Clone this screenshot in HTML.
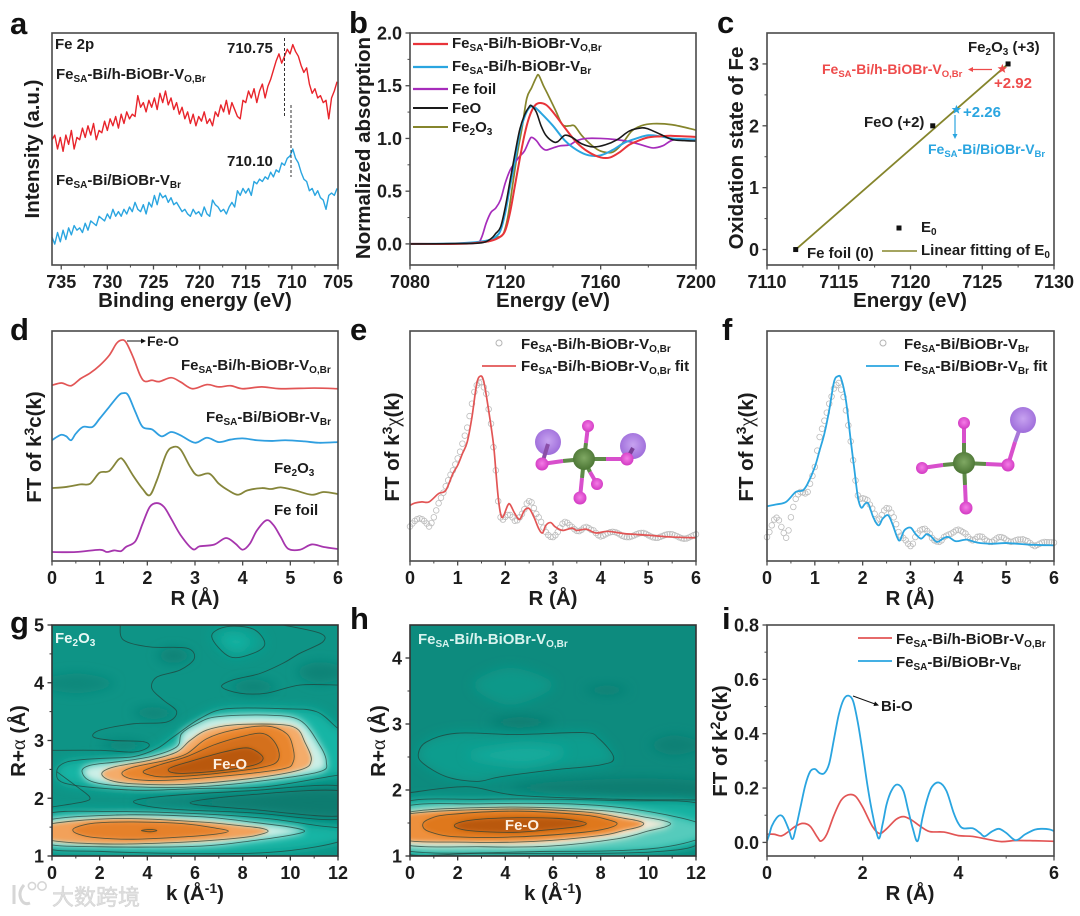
<!DOCTYPE html>
<html lang="en">
<head>
<meta charset="utf-8">
<title>Fe single atom characterization panels</title>
<style>
html,body{margin:0;padding:0;background:#fff;}
svg{display:block;filter:blur(.35px);}
text{font-family:"Liberation Sans","Noto Sans CJK SC",sans-serif;font-weight:700;fill:#1c1c1c;}
.letter{font-size:31px;fill:#111;}
.title{font-size:20.5px;text-anchor:middle;}
.ann{font-size:15px;}
.tick{font-size:18px;}
.red{fill:#ee4b4b;}
.blue{fill:#2aa5e0;}
.serif{font-family:"Liberation Serif",serif;font-weight:400;}
</style>
</head>
<body>
<svg id="figure" xmlns="http://www.w3.org/2000/svg" width="1080" height="916" viewBox="0 0 1080 916">
<defs>
<filter id="soft-wide" x="-40%" y="-80%" width="180%" height="260%"><feGaussianBlur stdDeviation="5.5"/></filter>
<filter id="soft-mid" x="-40%" y="-80%" width="180%" height="260%"><feGaussianBlur stdDeviation="3.6"/></filter>
<filter id="soft-tight" x="-40%" y="-80%" width="180%" height="260%"><feGaussianBlur stdDeviation="2.2"/></filter>
<clipPath id="clip-g"><rect x="52" y="625" width="286" height="231"/></clipPath>
<clipPath id="clip-h"><rect x="410" y="625" width="286" height="231"/></clipPath>
<radialGradient id="ball-green" cx="50%" cy="45%" r="60%"><stop offset="0" stop-color="#7fa863"/><stop offset="1" stop-color="#46702f"/></radialGradient>
<radialGradient id="ball-pink" cx="50%" cy="45%" r="60%"><stop offset="0" stop-color="#f47ce6"/><stop offset="1" stop-color="#cf33bf"/></radialGradient>
<radialGradient id="ball-purple" cx="50%" cy="45%" r="60%"><stop offset="0" stop-color="#c7a2f0"/><stop offset="1" stop-color="#9a68d8"/></radialGradient>
</defs>

<g id="plot-a"></g>
<g id="plot-b"></g>
<g id="plot-c"></g>
<g id="plot-d"></g>
<g id="plot-e"></g>
<g id="plot-f"></g>
<g id="plot-g"></g>
<g id="plot-h"></g>
<g id="plot-i"></g>

<!-- panel letters -->
<text class="letter" x="10" y="34">a</text>
<text class="letter" x="349" y="33">b</text>
<text class="letter" x="717" y="33">c</text>
<text class="letter" x="10" y="340">d</text>
<text class="letter" x="350" y="340">e</text>
<text class="letter" x="722" y="340">f</text>
<text class="letter" x="10" y="633">g</text>
<text class="letter" x="350" y="629">h</text>
<text class="letter" x="722" y="629">i</text>

<!-- axis titles -->
<text class="title" x="195" y="307">Binding energy (eV)</text>
<text class="title" transform="rotate(-90 39 149)" x="39" y="149">Intensity (a.u.)</text>
<text class="title" x="553" y="307">Energy (eV)</text>
<text class="title" transform="rotate(-90 370 148)" x="370" y="148">Normalized absorption</text>
<text class="title" x="910" y="307">Energy (eV)</text>
<text class="title" transform="rotate(-90 743 148)" x="743" y="148">Oxidation state of Fe</text>
<text class="title" x="195" y="605">R (Å)</text>
<text class="title" transform="rotate(-90 41 447)" x="41" y="447">FT of k<tspan dy="-7" font-size="14">3</tspan><tspan dy="7">c(k)</tspan></text>
<text class="title" x="553" y="605">R (Å)</text>
<text class="title" transform="rotate(-90 399 447)" x="399" y="447">FT of k<tspan dy="-7" font-size="14">3</tspan><tspan dy="7" class="serif">χ</tspan><tspan>(k)</tspan></text>
<text class="title" x="910" y="605">R (Å)</text>
<text class="title" transform="rotate(-90 753 447)" x="753" y="447">FT of k<tspan dy="-7" font-size="14">3</tspan><tspan dy="7" class="serif">χ</tspan><tspan>(k)</tspan></text>
<text class="title" x="195" y="900">k (Å<tspan dy="-7" font-size="14">-1</tspan><tspan dy="7">)</tspan></text>
<text class="title" transform="rotate(-90 25 741)" x="25" y="741">R+<tspan class="serif">α</tspan> (Å)</text>
<text class="title" x="553" y="900">k (Å<tspan dy="-7" font-size="14">-1</tspan><tspan dy="7">)</tspan></text>
<text class="title" transform="rotate(-90 385 741)" x="385" y="741">R+<tspan class="serif">α</tspan> (Å)</text>
<text class="title" x="910" y="900">R (Å)</text>
<text class="title" transform="rotate(-90 727 741)" x="727" y="741">FT of k<tspan dy="-7" font-size="14">2</tspan><tspan dy="7">c(k)</tspan></text>

<!-- panel a annotations -->
<text class="ann" x="55" y="49">Fe 2p</text>
<text class="ann" x="56" y="79">Fe<tspan dy="3" font-size="10">SA</tspan><tspan dy="-3">-Bi/h-BiOBr-V</tspan><tspan dy="3" font-size="10">O,Br</tspan></text>
<text class="ann" x="56" y="185">Fe<tspan dy="3" font-size="10">SA</tspan><tspan dy="-3">-Bi/BiOBr-V</tspan><tspan dy="3" font-size="10">Br</tspan></text>
<text class="ann" x="227" y="53">710.75</text>
<text class="ann" x="227" y="166">710.10</text>
<line x1="284.5" y1="38" x2="284.5" y2="117" stroke="#333" stroke-width="1" stroke-dasharray="3 2"/>
<line x1="291" y1="105" x2="291" y2="177" stroke="#333" stroke-width="1" stroke-dasharray="3 2"/>

<!-- panel b legend -->
<g>
<line x1="413" y1="44" x2="448" y2="44" stroke="#e8343a" stroke-width="2.2"/>
<text class="ann" x="452" y="48">Fe<tspan dy="3" font-size="10">SA</tspan><tspan dy="-3">-Bi/h-BiOBr-V</tspan><tspan dy="3" font-size="10">O,Br</tspan></text>
<line x1="413" y1="67" x2="448" y2="67" stroke="#2aa5e0" stroke-width="2.2"/>
<text class="ann" x="452" y="71">Fe<tspan dy="3" font-size="10">SA</tspan><tspan dy="-3">-Bi/h-BiOBr-V</tspan><tspan dy="3" font-size="10">Br</tspan></text>
<line x1="413" y1="89" x2="448" y2="89" stroke="#a62cbb" stroke-width="2.2"/>
<text class="ann" x="452" y="94">Fe foil</text>
<line x1="413" y1="108" x2="448" y2="108" stroke="#1a1a1a" stroke-width="2"/>
<text class="ann" x="452" y="113">FeO</text>
<line x1="413" y1="127" x2="448" y2="127" stroke="#85852c" stroke-width="2"/>
<text class="ann" x="452" y="132">Fe<tspan dy="3" font-size="10">2</tspan><tspan dy="-3">O</tspan><tspan dy="3" font-size="10">3</tspan></text>
</g>

<!-- panel c annotations -->
<text class="ann" x="968" y="52">Fe<tspan dy="3" font-size="10">2</tspan><tspan dy="-3">O</tspan><tspan dy="3" font-size="10">3</tspan><tspan dy="-3"> (+3)</tspan></text>
<text class="ann red" style="font-size:14px" x="822" y="74">Fe<tspan dy="3" font-size="9.5" class="red">SA</tspan><tspan dy="-3" class="red">-Bi/h-BiOBr-V</tspan><tspan dy="3" font-size="9.5" class="red">O,Br</tspan></text>
<line x1="992" y1="69.5" x2="970" y2="69.5" stroke="#ee4b4b" stroke-width="1.2"/>
<path d="M968 69.5 L973 67 L973 72 Z" fill="#ee4b4b"/>
<text class="ann red" x="994" y="88">+2.92</text>
<text class="ann blue" x="963" y="117">+2.26</text>
<line x1="955" y1="115" x2="955" y2="136" stroke="#2aa5e0" stroke-width="1.2"/>
<path d="M955 139 L952.5 134 L957.5 134 Z" fill="#2aa5e0"/>
<text class="ann blue" style="font-size:14px" x="928" y="154">Fe<tspan dy="3" font-size="9.5" class="blue">SA</tspan><tspan dy="-3" class="blue">-Bi/BiOBr-V</tspan><tspan dy="3" font-size="9.5" class="blue">Br</tspan></text>
<text class="ann" x="864" y="127">FeO (+2)</text>
<text class="ann" x="807" y="258">Fe foil (0)</text>
<rect x="896.5" y="225.5" width="5" height="5" fill="#111"/>
<text class="ann" x="921" y="232">E<tspan dy="3" font-size="10">0</tspan></text>
<line x1="882" y1="251" x2="917" y2="251" stroke="#85852c" stroke-width="1.6"/>
<text class="ann" x="921" y="255">Linear fitting of E<tspan dy="3" font-size="10">0</tspan></text>

<!-- panel d annotations -->
<line x1="127" y1="341" x2="142" y2="341" stroke="#111" stroke-width="1"/>
<path d="M146 341 L141 338.5 L141 343.5 Z" fill="#111"/>
<text class="ann" style="font-size:14px" x="147" y="346">Fe-O</text>
<text class="ann" x="181" y="370">Fe<tspan dy="3" font-size="10">SA</tspan><tspan dy="-3">-Bi/h-BiOBr-V</tspan><tspan dy="3" font-size="10">O,Br</tspan></text>
<text class="ann" x="206" y="422">Fe<tspan dy="3" font-size="10">SA</tspan><tspan dy="-3">-Bi/BiOBr-V</tspan><tspan dy="3" font-size="10">Br</tspan></text>
<text class="ann" x="274" y="473">Fe<tspan dy="3" font-size="10">2</tspan><tspan dy="-3">O</tspan><tspan dy="3" font-size="10">3</tspan></text>
<text class="ann" x="274" y="515">Fe foil</text>

<!-- panel e legend and molecule -->
<circle cx="499" cy="343" r="3" fill="none" stroke="#b5b5b5" stroke-width="1"/>
<text class="ann" x="521" y="349">Fe<tspan dy="3" font-size="10">SA</tspan><tspan dy="-3">-Bi/h-BiOBr-V</tspan><tspan dy="3" font-size="10">O,Br</tspan></text>
<line x1="482" y1="366" x2="516" y2="366" stroke="#e25555" stroke-width="1.8"/>
<text class="ann" x="521" y="371">Fe<tspan dy="3" font-size="10">SA</tspan><tspan dy="-3">-Bi/h-BiOBr-V</tspan><tspan dy="3" font-size="10">O,Br</tspan><tspan dy="-3"> fit</tspan></text>
<g>
<circle cx="548" cy="442" r="13" fill="url(#ball-purple)"/>
<circle cx="633" cy="446" r="13" fill="url(#ball-purple)"/>
<line x1="548" y1="444" x2="542" y2="464" stroke="#8b4fa8" stroke-width="4"/>
<line x1="633" y1="448" x2="627" y2="459" stroke="#7a3f98" stroke-width="4"/>
<line x1="584" y1="459" x2="563" y2="461" stroke="#5f8a48" stroke-width="4"/>
<line x1="563" y1="461" x2="542" y2="464" stroke="#d84fcc" stroke-width="4"/>
<line x1="584" y1="459" x2="606" y2="459" stroke="#5f8a48" stroke-width="4"/>
<line x1="606" y1="459" x2="627" y2="459" stroke="#d84fcc" stroke-width="4"/>
<line x1="584" y1="459" x2="586" y2="443" stroke="#5f8a48" stroke-width="4"/>
<line x1="586" y1="443" x2="588" y2="426" stroke="#d84fcc" stroke-width="4"/>
<line x1="584" y1="459" x2="590" y2="472" stroke="#5f8a48" stroke-width="4"/>
<line x1="590" y1="472" x2="597" y2="484" stroke="#d84fcc" stroke-width="4"/>
<line x1="584" y1="459" x2="582" y2="478" stroke="#5f8a48" stroke-width="4"/>
<line x1="582" y1="478" x2="580" y2="498" stroke="#d84fcc" stroke-width="4"/>
<circle cx="588" cy="426" r="6" fill="url(#ball-pink)"/>
<circle cx="542" cy="464" r="6.5" fill="url(#ball-pink)"/>
<circle cx="627" cy="459" r="6.5" fill="url(#ball-pink)"/>
<circle cx="597" cy="484" r="6" fill="url(#ball-pink)"/>
<circle cx="580" cy="498" r="6.5" fill="url(#ball-pink)"/>
<circle cx="584" cy="459" r="11" fill="url(#ball-green)"/>
</g>

<!-- panel f legend and molecule -->
<circle cx="883" cy="343" r="3" fill="none" stroke="#b5b5b5" stroke-width="1"/>
<text class="ann" x="904" y="349">Fe<tspan dy="3" font-size="10">SA</tspan><tspan dy="-3">-Bi/BiOBr-V</tspan><tspan dy="3" font-size="10">Br</tspan></text>
<line x1="866" y1="366" x2="899" y2="366" stroke="#2aa5e0" stroke-width="1.8"/>
<text class="ann" x="904" y="371">Fe<tspan dy="3" font-size="10">SA</tspan><tspan dy="-3">-Bi/BiOBr-V</tspan><tspan dy="3" font-size="10">Br</tspan><tspan dy="-3"> fit</tspan></text>
<g>
<line x1="1023" y1="420" x2="1015" y2="442" stroke="#a878d8" stroke-width="4"/>
<line x1="1015" y1="442" x2="1008" y2="465" stroke="#d84fcc" stroke-width="4"/>
<line x1="964" y1="463" x2="986" y2="464" stroke="#5f8a48" stroke-width="4"/>
<line x1="986" y1="464" x2="1008" y2="465" stroke="#d84fcc" stroke-width="4"/>
<line x1="964" y1="463" x2="943" y2="465" stroke="#5f8a48" stroke-width="4"/>
<line x1="943" y1="465" x2="922" y2="468" stroke="#d84fcc" stroke-width="4"/>
<line x1="964" y1="463" x2="964" y2="443" stroke="#5f8a48" stroke-width="4"/>
<line x1="964" y1="443" x2="964" y2="423" stroke="#d84fcc" stroke-width="4"/>
<line x1="964" y1="463" x2="965" y2="485" stroke="#5f8a48" stroke-width="4"/>
<line x1="965" y1="485" x2="966" y2="508" stroke="#d84fcc" stroke-width="4"/>
<circle cx="1023" cy="420" r="13" fill="url(#ball-purple)"/>
<circle cx="964" cy="423" r="6" fill="url(#ball-pink)"/>
<circle cx="922" cy="468" r="6" fill="url(#ball-pink)"/>
<circle cx="1008" cy="465" r="6.5" fill="url(#ball-pink)"/>
<circle cx="966" cy="508" r="6.5" fill="url(#ball-pink)"/>
<circle cx="964" cy="463" r="11" fill="url(#ball-green)"/>
</g>

<!-- panels g, h annotations -->
<text class="ann" x="55" y="643" style="fill:#e6f8f4">Fe<tspan dy="3" font-size="10" style="fill:#e6f8f4">2</tspan><tspan dy="-3" style="fill:#e6f8f4">O</tspan><tspan dy="3" font-size="10" style="fill:#e6f8f4">3</tspan></text>
<text class="ann" x="230" y="769" text-anchor="middle" style="fill:#fdf0e2">Fe-O</text>
<text class="ann" x="418" y="644" style="fill:#d8f3ee">Fe<tspan dy="3" font-size="10" style="fill:#d8f3ee">SA</tspan><tspan dy="-3" style="fill:#d8f3ee">-Bi/h-BiOBr-V</tspan><tspan dy="3" font-size="10" style="fill:#d8f3ee">O,Br</tspan></text>
<text class="ann" x="522" y="830" text-anchor="middle" style="fill:#fdf0e2">Fe-O</text>

<!-- panel i legend -->
<line x1="858" y1="638" x2="892" y2="638" stroke="#e25555" stroke-width="1.8"/>
<text class="ann" x="896" y="644">Fe<tspan dy="3" font-size="10">SA</tspan><tspan dy="-3">-Bi/h-BiOBr-V</tspan><tspan dy="3" font-size="10">O,Br</tspan></text>
<line x1="858" y1="661" x2="892" y2="661" stroke="#2aa5e0" stroke-width="1.8"/>
<text class="ann" x="896" y="667">Fe<tspan dy="3" font-size="10">SA</tspan><tspan dy="-3">-Bi/BiOBr-V</tspan><tspan dy="3" font-size="10">Br</tspan></text>
<line x1="853" y1="696" x2="875" y2="704" stroke="#111" stroke-width="1"/>
<path d="M879 705.5 L873.5 706 L875 701.5 Z" fill="#111"/>
<text class="ann" x="881" y="711">Bi-O</text>

<!-- watermark -->
<g>
<path d="M14 885 L14 904 M24 885 Q17 893 22 901 Q25 905 30 903" fill="none" stroke="#d6d6d6" stroke-width="3"/>
<circle cx="32" cy="886" r="3.6" fill="none" stroke="#d6d6d6" stroke-width="1.6"/>
<circle cx="42" cy="886" r="4.2" fill="none" stroke="#d6d6d6" stroke-width="1.6"/>
<text x="52" y="905" font-size="22" stroke="#d2d2d2" stroke-width="0.5" style="fill:#dedede;font-weight:400;font-family:'Liberation Sans','Noto Sans CJK SC',sans-serif">大数跨境</text>
</g>
</svg>

<script>
/* ---------- data: panel a ---------- */
const aEnergyStart = 736;
const aEnergyStep = 0.3;
const aRed = [54,56,50,55,49,56,52,58,50,55,54,59,55,60,56,61,54,58,57,62,58,63,60,64,59,65,61,66,63,65,64,73,68,70,66,71,68,72,67,74,70,75,69,72,67,70,65,68,63,66,61,65,60,64,62,66,61,63,60,66,64,69,66,71,65,70,67,64,63,71,70,75,72,76,70,75,78,72,77,80,84,88,91,87,90,93,91,95,92,90,86,83,85,78,74,76,72,73,70,71,63,72,75,79];
const aBlue = [12,9,14,10,15,11,16,13,17,15,16,14,18,15,19,18,17,21,20,19,22,20,24,21,23,21,24,22,25,23,27,24,23,26,22,27,25,30,26,31,29,30,27,29,26,27,25,23,24,22,21,24,22,23,21,25,22,21,28,26,25,23,24,22,25,27,25,32,30,33,31,33,30,36,35,37,36,38,37,40,38,41,40,44,43,46,47,50,46,44,40,37,36,32,33,30,32,29,28,24,30,31,30,33];
const aXLabels = ['735','730','725','720','715','710','705'];

/* ---------- data: panel b ---------- */
const bRed = [[7080,0],[7100,0],[7108,.01],[7114,.03],[7118,.07],[7120,.13],[7122,.3],[7124,.55],[7126,.8],[7128,1.03],[7130,1.2],[7132,1.3],[7134,1.335],[7137,1.32],[7140,1.25],[7145,1.1],[7150,.96],[7155,.87],[7160,.82],[7164,.82],[7168,.87],[7172,.94],[7176,.98],[7180,1.01],[7185,1.02],[7190,1.025],[7200,1.015]];
const bBlue = [[7080,0],[7100,.005],[7112,.03],[7116,.07],[7118,.13],[7120,.3],[7122,.55],[7124,.78],[7126,1.05],[7128,1.2],[7130,1.29],[7132,1.3],[7135,1.24],[7140,1.12],[7145,.98],[7150,.89],[7155,.84],[7160,.84],[7165,.89],[7170,.96],[7175,1.0],[7180,1.03],[7185,1.02],[7190,1.0],[7200,.99]];
const bPurple = [[7080,0],[7100,.002],[7108,.01],[7110,.06],[7112,.2],[7114,.3],[7116,.34],[7118,.42],[7120,.58],[7122,.7],[7124,.77],[7126,.83],[7128,.88],[7130,.98],[7131,1.01],[7133,.98],[7135,.92],[7137,.89],[7140,.91],[7143,.93],[7147,.94],[7150,.98],[7154,1.0],[7160,1.0],[7166,.99],[7172,.97],[7177,.94],[7182,.91],[7186,.93],[7191,.99],[7200,.99]];
const bBlack = [[7080,0],[7100,.003],[7110,.01],[7114,.05],[7116,.1],[7118,.16],[7120,.35],[7122,.6],[7124,.85],[7126,1.08],[7128,1.22],[7130,1.3],[7131,1.31],[7133,1.25],[7135,1.12],[7137,1.03],[7140,.97],[7142,.97],[7145,1.03],[7148,1.01],[7152,.95],[7157,.92],[7162,.94],[7167,.99],[7172,1.07],[7177,1.1],[7180,1.09],[7185,1.04],[7190,.99],[7195,.98],[7200,.975]];
const bOlive = [[7080,0],[7100,.003],[7112,.02],[7116,.06],[7119,.09],[7121,.25],[7123,.55],[7125,.85],[7127,1.1],[7129,1.38],[7131,1.48],[7133,1.58],[7134,1.6],[7136,1.5],[7138,1.41],[7141,1.27],[7144,1.13],[7147,1.12],[7149,1.12],[7152,1.03],[7156,.94],[7160,.88],[7165,.87],[7169,.95],[7173,1.07],[7177,1.12],[7182,1.14],[7190,1.13],[7200,1.08]];
const bXLabels = ['7080','7120','7160','7200'];
const bYLabels = ['0.0','0.5','1.0','1.5','2.0'];

/* ---------- data: panel c ---------- */
const cReferenceEnergy = [7112, 7121.55, 7126.8];
const cReferenceState = [0, 2, 3];
const cFitEnergy = [7112, 7126.8];
const cFitState = [0, 3];
const cSampleEnergy = [7126.4, 7123.2];
const cSampleState = [2.92, 2.26];
const cXLabels = ['7110','7115','7120','7125','7130'];
const cYLabels = ['0','1','2','3'];

/* ---------- data: panel d ---------- */
const dRed = [[0,76.4],[.2,77.4],[.4,76.2],[.6,79.3],[.8,81.7],[1,85],[1.2,89.4],[1.35,94.5],[1.45,96],[1.55,95.2],[1.7,88.7],[1.85,80.7],[1.95,78.1],[2.1,78.6],[2.25,78],[2.5,79.7],[2.7,77.8],[2.95,74.9],[3.25,76.7],[3.5,75.7],[3.75,76.2],[4,74.9],[4.4,75.7],[4.8,74.9],[5.5,75.2],[6,74.9]];
const dBlue = [[0,52.5],[.1,53.9],[.2,54.9],[.3,54.2],[.4,52.5],[.5,55.4],[.65,58.3],[.85,58.3],[1,61.9],[1.2,67],[1.4,72],[1.5,73],[1.6,72],[1.75,64.8],[1.9,58.3],[2.1,57.2],[2.3,54.2],[2.5,56.1],[2.7,54.6],[3,51.4],[3.25,53.6],[3.5,51.7],[3.75,52.8],[4,53.3],[4.3,52.5],[4.6,52.2],[4.9,52.5],[5.3,52],[5.6,51.4],[6,51.7]];
const dOlive = [[0,31.7],[.3,32.2],[.6,33.3],[.8,33.6],[1,38.4],[1.2,39.1],[1.4,44.2],[1.5,43.8],[1.7,37.2],[1.9,31.4],[2.05,28.6],[2.2,35.1],[2.4,46.7],[2.55,49.6],[2.7,48.4],[2.9,40.9],[3.05,37.2],[3.3,38],[3.5,33.6],[3.7,30.7],[3.9,28.8],[4.1,30.7],[4.4,31.7],[4.6,31.3],[4.8,32],[5.1,30.7],[5.45,28.8],[5.7,30],[6,29.1]];
const dPurple = [[0,3.9],[.5,3.9],[1,4.9],[1.15,3.9],[1.3,4.6],[1.45,4.3],[1.55,6.1],[1.75,8.6],[1.9,16.2],[2.05,23.5],[2.2,25.2],[2.35,23.5],[2.5,18.4],[2.7,11.2],[2.95,5.2],[3.1,6.4],[3.4,7.1],[3.65,10],[3.85,7.5],[4,4.9],[4.15,7.5],[4.3,13.3],[4.5,17.7],[4.65,15.5],[4.8,10.4],[4.95,5.4],[5.2,4.9],[5.45,7.2],[5.7,6.1],[6,5.2]];
const dXLabels = ['0','1','2','3','4','5','6'];

/* ---------- data: panel e ---------- */
const dataStepR = 0.05;
const eData = [15,16.3,17.4,18.2,18.5,18.2,17.4,16.3,15,16.5,19,22,25.1,27.5,29.7,32.5,35.1,37.5,39.4,42,44.6,47.5,51,54.5,58,63,68.4,73.5,76.4,77.5,77.8,75.5,72.7,66,59.7,49.5,39.4,26,19,18,19.2,20,20,19,17.5,17.7,19,20.5,22.5,25,26,25.5,23,20.5,19,17,14.5,12.6,11.3,10.5,10.4,11.2,12.6,14.5,16.2,17,16.6,15.6,14.8,13.8,13.1,13,13.6,14.5,14.8,14.3,13.6,13.3,12.2,11.2,10.7,11,11.6,12.1,12.5,12.7,12.6,12.2,11.6,11,10.6,10.4,10.4,10.7,11.1,11.6,12,12.2,12.2,11.8,11.2,10.7,10.3,10.1,10.1,10.5,10.9,11.3,11.6,11.7,11.6,11.2,10.8,10.3,9.9,9.7,9.8,10.2,10.7,11.2,11.6];
const eFit = [[0,24.2],[.1,25.2],[.25,25.7],[.4,25.7],[.6,29.3],[.75,30.7],[.9,38],[1,41.6],[1.1,46.7],[1.2,51.7],[1.3,62.6],[1.4,77.1],[1.48,80.4],[1.55,77.8],[1.65,65.5],[1.75,51],[1.8,39.4],[1.85,27.8],[1.9,20.6],[1.95,19.1],[2.05,24.2],[2.1,24.6],[2.2,20.6],[2.3,18.1],[2.4,22],[2.5,22.8],[2.6,19.1],[2.7,14.1],[2.78,12.2],[2.85,15.5],[2.95,16.7],[3.05,14.8],[3.2,13.3],[3.4,14.3],[3.5,13.3],[3.7,13.8],[3.9,12.2],[4.15,12.9],[4.5,11.9],[5,11.2],[5.5,10.4],[6,10.1]];

/* ---------- data: panel f ---------- */
const fData = [10.4,12.6,15.5,18,18.8,17.7,14.8,12.2,10.1,13.3,19,23.5,27,29,30,29.8,29.4,30,33.6,37,40.9,48,53.9,57.5,61,64.5,68.4,71.5,75,76.5,77.4,74.5,71.3,65.5,59,52,43.8,35,28.5,27,27.3,27,26.4,24.5,22.8,20.5,17.7,18.4,20,22,23,22.8,21,19,16,12.6,11,10,9,7.5,6.5,7.5,10.4,12,13.3,13.8,14,13,11.9,10,9,8.5,8.3,9,10.4,11,11.5,11.9,12.5,13.3,13.6,13.2,12.5,11.9,10.5,9.5,9,9.5,10.5,10.7,10.5,9.5,8.8,8.3,8.3,9,9.8,10.4,10.4,10,9.3,8.6,8.3,8.5,9,9.3,9.3,9.4,9,8.6,7.8,7,6.5,7,7.5,8,8.3,8.2,8.2,8.1,8];
const fFit = [[0,23.8],[.2,24.6],[.4,25.7],[.6,30],[.75,30.7],[.85,33.6],[1,40.9],[1.1,48.1],[1.2,55.4],[1.3,65.5],[1.4,77.8],[1.48,80.3],[1.55,79.3],[1.65,69.9],[1.75,52.5],[1.82,40.9],[1.9,27.8],[1.97,23.2],[2.05,24.9],[2.12,24.9],[2.22,19.1],[2.33,15.5],[2.42,18.4],[2.53,19.9],[2.62,16.2],[2.72,10.4],[2.78,9],[2.87,13.3],[3,14.5],[3.1,11.9],[3.22,9.7],[3.33,11.6],[3.42,10.9],[3.55,8.3],[3.7,10],[3.8,10.4],[3.95,8.6],[4.17,9.3],[4.4,8],[4.7,7.5],[5,7.8],[5.5,7.1],[6,6.8]];

/* ---------- data: panel g contour levels (k, R) ---------- */
const gBaseLevel = 0.2;
const gRegions = [
 {level:.13,line:false,pts:[[-.77,3.99],[1.05,4.16],[2.65,3.99],[1.05,3.82]]},
 {level:.08,line:false,pts:[[4.4,4.47],[5.09,4.6],[5.86,4.47],[5.09,4.34]]},
 {level:.1,line:false,pts:[[7.47,3.93],[8.44,4.06],[9.42,3.93],[8.44,3.8]]},
 {level:.1,line:false,pts:[[10.26,4.19],[11.23,4.36],[12.63,4.19],[11.23,3.99]]},
 {level:.1,line:false,pts:[[3.35,3.49],[4.26,3.58],[5.23,3.47],[4.26,3.37]]},
 {level:.1,line:false,pts:[[2.02,2.92],[3,3],[4.05,2.91],[3,2.82]]},
 {level:.27,line:true,pts:[[6.7,4.8],[7.33,4.97],[8.44,4.93],[8.93,4.68],[8.44,4.51],[7.46,4.45]]},
 {level:.34,line:false,pts:[[7.05,4.77],[7.74,4.83],[8.3,4.71],[7.74,4.57]]},
 {level:.12,line:true,pts:[[3.42,1.94],[4.81,2.04],[8.3,2.13],[12.2,2.2],[12.2,1.65],[8.3,1.75],[4.81,1.82]]},
 {level:.05,line:true,pts:[[5.79,1.92],[8.3,2.06],[12.2,2.12],[12.2,1.7],[8.3,1.81]]},
 {level:.35,line:true,pts:[[.2,2.46],[.63,2.63],[2.02,2.69],[3.42,2.72],[4.4,2.86],[5.09,3.06],[6.21,3.38],[7.33,3.55],[9.7,3.55],[11.09,3.5],[12,3.21],[12.35,3.18],[12.35,2.37],[12,2.4],[9,2.2],[6.21,2.17],[3.42,2.14],[.63,2.25]]},
 {level:.52,line:true,pts:[[1.26,2.46],[1.6,2.57],[2.72,2.63],[4.12,2.72],[5.23,2.89],[5.44,3.12],[6.07,3.29],[6.91,3.41],[9,3.44],[10.4,3.35],[11.23,2.92],[11.51,2.63],[11.23,2.46],[9,2.31],[6.21,2.2],[3.42,2.2],[1.74,2.28]]},
 {level:.7,line:true,pts:[[2.09,2.43],[2.58,2.54],[4.12,2.66],[5.23,2.8],[5.79,3],[6.49,3.18],[7.6,3.27],[9.42,3.28],[10.26,3.21],[10.6,2.98],[10.88,2.66],[10.4,2.49],[8.3,2.34],[5.51,2.24],[3.42,2.25],[2.44,2.31]]},
 {level:.8,line:true,pts:[[2.93,2.43],[3.42,2.54],[4.81,2.66],[5.65,2.77],[6.49,3.03],[7.6,3.18],[9,3.25],[9.84,3.12],[10.12,2.86],[10.12,2.63],[9.7,2.51],[7.6,2.4],[4.81,2.31],[3.42,2.33]]},
 {level:.9,line:true,pts:[[3.84,2.47],[4.53,2.58],[5.65,2.72],[6.77,2.92],[7.88,3.06],[8.86,3.12],[9.42,2.92],[9.49,2.66],[8.86,2.54],[6.91,2.43],[4.81,2.37],[4.12,2.4]]},
 {level:1,line:true,pts:[[4.88,2.5],[5.1,2.55],[5.65,2.62],[6.91,2.77],[8.02,2.87],[8.51,2.83],[8.86,2.69],[8.44,2.57],[6.91,2.47],[5.51,2.43],[5,2.45]]},
 {level:.35,line:true,pts:[[-.35,1.71],[2.72,1.77],[6.21,1.73],[9,1.65],[11.09,1.53],[12.35,1.46],[12.35,1.3],[11.09,1.16],[9,1.06],[6.21,1.04],[2.02,1.08],[-.35,1.16]]},
 {level:.52,line:true,pts:[[-.35,1.6],[2.72,1.71],[6.21,1.68],[8.5,1.58],[10,1.5],[10.6,1.43],[10,1.36],[8.5,1.27],[6.21,1.17],[2.02,1.16],[-.35,1.23]]},
 {level:.72,line:true,pts:[[-.35,1.53],[2.72,1.65],[6.21,1.59],[8,1.52],[8.8,1.48],[9.07,1.43],[8.8,1.38],[8,1.32],[5.51,1.24],[2.02,1.21],[-.35,1.3]]},
 {level:.82,line:true,pts:[[.87,1.45],[1.1,1.51],[1.8,1.57],[3.42,1.59],[5.51,1.56],[6.9,1.48],[7.4,1.43],[6.9,1.38],[5.51,1.33],[3.42,1.29],[1.8,1.32],[1.1,1.38]]},
 {level:.98,line:true,pts:[[3.75,1.44],[4.12,1.46],[4.4,1.44],[4.12,1.42]]}
];
const gLines = [
 [[2.86,5],[3,4.74],[4.12,4.62],[5.65,4.6],[5.97,4.42],[5.37,4.22],[4.4,4.1],[4.19,3.9],[4.67,3.7],[5.23,3.5],[4.81,3.32],[3.42,3.29],[2.02,3.18],[1.74,3.06],[2.58,3],[3.84,2.98],[4.05,2.89],[3.42,2.8],[2.02,2.83],[0,2.83]],
 [[12,3.96],[10.4,3.96],[9,3.82],[7.88,3.82],[7.12,3.93],[7.6,4.05],[8.72,4.16],[9.7,4.34],[10.4,4.51],[11.37,4.71],[11.23,4.86],[9.7,5]],
 [[0,1.85],[1.33,1.94],[1.58,2.02],[1.05,2.2],[.2,2.46]]
];
const gXLabels = ['0','2','4','6','8','10','12'];
const gYLabels = ['1','2','3','4','5'];

/* ---------- data: panel h contour levels (k, R) ---------- */
const hBaseLevel = 0.15;
const hRegions = [
 {level:.22,line:false,pts:[[2.66,3.59],[4.2,3.85],[6.03,3.59],[4.2,3.29]]},
 {level:.05,line:false,pts:[[3.29,3.03],[4.63,3.11],[6.1,3.03],[4.63,2.94]]},
 {level:.08,line:false,pts:[[7.29,3.52],[8.27,3.59],[9.18,3.52],[8.27,3.43]]},
 {level:.08,line:false,pts:[[10.09,2.68],[11.08,2.83],[12.34,2.68],[11.08,2.53]]},
 {level:.06,line:false,pts:[[4.21,2.05],[8.69,2.17],[12.34,2.12],[12.34,1.87],[7.29,1.9]]},
 {level:.25,line:true,pts:[[.35,2.55],[.7,2.73],[1.96,2.86],[4.49,2.84],[7.29,2.87],[7.92,2.78],[8.55,2.49],[7.99,2.38],[5.89,2.3],[3.79,2.2],[2.8,2.13],[1.54,2.2],[.56,2.4]]},
 {level:.31,line:false,pts:[[2.38,2.53],[4.77,2.68],[6.59,2.58],[4.77,2.38]]},
 {level:.34,line:true,pts:[[-.42,1.78],[3.08,1.86],[8.69,1.84],[12.34,1.77],[12.34,1.24],[10.09,1.06],[3.08,1.04],[-.42,1.07]]},
 {level:.42,line:true,pts:[[-.42,1.72],[3.08,1.79],[7.29,1.78],[10.09,1.67],[12.34,1.47],[12.34,1.29],[10.09,1.11],[5.89,1.07],[-.42,1.1]]},
 {level:.58,line:true,pts:[[-.42,1.63],[3.79,1.74],[7.99,1.69],[10,1.58],[10.7,1.53],[10.94,1.49],[10.7,1.44],[10,1.38],[8.69,1.26],[5.89,1.15],[3.08,1.14],[-.42,1.19]]},
 {level:.76,line:true,pts:[[-.42,1.61],[3.79,1.71],[7.29,1.67],[9,1.57],[9.6,1.53],[9.81,1.49],[9.6,1.44],[9,1.39],[7.99,1.31],[5.19,1.22],[2.38,1.21],[-.42,1.26]]},
 {level:.86,line:true,pts:[[.53,1.47],[.8,1.56],[1.68,1.63],[4.49,1.68],[7.29,1.62],[8.3,1.55],[8.69,1.49],[8.3,1.42],[7.29,1.36],[4.49,1.29],[1.96,1.29],[.8,1.37]]},
 {level:1,line:true,pts:[[1.86,1.46],[2.2,1.52],[3,1.56],[4.49,1.58],[6.17,1.57],[7.1,1.53],[7.4,1.49],[7.1,1.45],[6.17,1.41],[4.49,1.36],[3,1.37],[2.2,1.4]]}
];
const hLines = [
 [[0,1.96],[2.38,2.05],[4.49,1.92],[8.69,1.86],[12,1.85]]
];
const hYLabels = ['1','2','3','4'];

/* ---------- data: panel i ---------- */
const iBlue = [[0,.005],[.05,.03],[.1,.06],[.2,.09],[.28,.1],[.35,.09],[.45,.05],[.53,.012],[.6,.05],[.7,.13],[.8,.21],[.9,.26],[1,.27],[1.1,.255],[1.2,.255],[1.3,.29],[1.4,.38],[1.5,.47],[1.6,.525],[1.7,.54],[1.8,.52],[1.9,.44],[2,.33],[2.1,.21],[2.2,.11],[2.33,.015],[2.42,.07],[2.5,.14],[2.6,.19],[2.72,.213],[2.85,.19],[2.95,.12],[3.05,.05],[3.15,.005],[3.25,.09],[3.35,.16],[3.45,.205],[3.6,.22],[3.75,.19],[3.9,.11],[4,.07],[4.1,.052],[4.3,.052],[4.45,.035],[4.55,.022],[4.7,.04],[4.85,.05],[5,.035],[5.2,.008],[5.4,.03],[5.6,.047],[5.75,.05],[5.9,.048],[6,.042]];
const iRed = [[0,.03],[.15,.03],[.3,.024],[.45,.04],[.6,.06],[.75,.07],[.9,.06],[1.05,.02],[1.13,.005],[1.25,.03],[1.4,.1],[1.55,.155],[1.7,.175],[1.85,.17],[2,.13],[2.2,.06],[2.35,.033],[2.5,.05],[2.7,.085],[2.85,.095],[3,.085],[3.2,.06],[3.4,.04],[3.7,.038],[4,.025],[4.3,.022],[4.6,.012],[4.9,.003],[5.2,.007],[5.6,.006],[6,.004]];
const iXLabels = ['0','2','4','6'];
const iYLabels = ['0.0','0.2','0.4','0.6','0.8'];

/* ---------- drawing helpers ---------- */
const NS = 'http://www.w3.org/2000/svg';
function add(parent, tag, attrs) {
  const node = document.createElementNS(NS, tag);
  for (const key in attrs) node.setAttribute(key, attrs[key]);
  parent.appendChild(node);
  return node;
}
function makePanel(id, left, right, bottom, top, xDom, yDom) {
  return {
    g: document.getElementById(id),
    left: left, right: right, bottom: bottom, top: top,
    x: function (v) { return left + (v - xDom[0]) * (right - left) / (xDom[1] - xDom[0]); },
    y: function (v) { return bottom + (v - yDom[0]) * (top - bottom) / (yDom[1] - yDom[0]); }
  };
}
function drawAxes(p, prefix, xLabels, yLabels, frameColor) {
  const frame = add(p.g, 'rect', {x: p.left, y: p.top, width: p.right - p.left, height: p.bottom - p.top, fill: 'none', stroke: frameColor, 'stroke-width': 1.6});
  
  
  const xv = xLabels.map(Number);
  xv.forEach(function (v, i) {
    const px = p.x(v);
    const t = add(p.g, 'line', {x1: px, x2: px, y1: p.bottom, y2: p.bottom + 4.5, stroke: frameColor, 'stroke-width': 1.3});
    
    
    const lab = add(p.g, 'text', {x: px, y: p.bottom + 23, 'text-anchor': 'middle', 'class': 'tick'});
    lab.textContent = xLabels[i];
    
    
    if (i < xv.length - 1) {
      const mx = p.x((v + xv[i + 1]) / 2);
      const m = add(p.g, 'line', {x1: mx, x2: mx, y1: p.bottom, y2: p.bottom + 2.5, stroke: frameColor, 'stroke-width': 1});
      
      
    }
  });
  const yv = yLabels.map(Number);
  yv.forEach(function (v, i) {
    const py = p.y(v);
    const t = add(p.g, 'line', {x1: p.left - 4.5, x2: p.left, y1: py, y2: py, stroke: frameColor, 'stroke-width': 1.3});
    
    
    const lab = add(p.g, 'text', {x: p.left - 8, y: py + 6.5, 'text-anchor': 'end', 'class': 'tick'});
    lab.textContent = yLabels[i];
    
    
    if (i < yv.length - 1) {
      const my = p.y((v + yv[i + 1]) / 2);
      const m = add(p.g, 'line', {x1: p.left - 2.5, x2: p.left, y1: my, y2: my, stroke: frameColor, 'stroke-width': 1});
      
      
    }
  });
}
function polyPath(pts) {
  return pts.map(function (q, i) { return (i ? 'L' : 'M') + q[0].toFixed(2) + ' ' + q[1].toFixed(2); }).join(' ');
}
function smoothPath(pts, closed) {
  const n = pts.length;
  let d = 'M' + pts[0][0].toFixed(2) + ' ' + pts[0][1].toFixed(2);
  const last = closed ? n : n - 1;
  for (let i = 0; i < last; i++) {
    const p0 = closed ? pts[(i - 1 + n) % n] : pts[Math.max(i - 1, 0)];
    const p1 = pts[i];
    const p2 = closed ? pts[(i + 1) % n] : pts[i + 1];
    const p3 = closed ? pts[(i + 2) % n] : pts[Math.min(i + 2, n - 1)];
    const c1x = p1[0] + (p2[0] - p0[0]) / 6, c1y = p1[1] + (p2[1] - p0[1]) / 6;
    const c2x = p2[0] - (p3[0] - p1[0]) / 6, c2y = p2[1] - (p3[1] - p1[1]) / 6;
    d += ' C' + c1x.toFixed(2) + ' ' + c1y.toFixed(2) + ' ' + c2x.toFixed(2) + ' ' + c2y.toFixed(2) + ' ' + p2[0].toFixed(2) + ' ' + p2[1].toFixed(2);
  }
  return closed ? d + ' Z' : d;
}
function drawCurve(p, data, color, width, name) {
  const pts = data.map(function (q) { return [p.x(q[0]), p.y(q[1])]; });
  const path = add(p.g, 'path', {d: smoothPath(pts, false), fill: 'none', stroke: color, 'stroke-width': width, 'stroke-linejoin': 'round'});
  
  
}

/* colour ramp for the wavelet maps */
const rampStops = [0,.15,.25,.35,.45,.55,.65,.75,.85,1];
const rampColors = [[10,116,105],[13,139,126],[15,157,142],[21,181,165],[111,212,198],[244,251,245],[249,197,150],[239,146,64],[226,122,31],[185,89,15]];
function levelColor(v) {
  let i = 0;
  while (i < rampStops.length - 2 && v > rampStops[i + 1]) i++;
  const t = Math.min(1, Math.max(0, (v - rampStops[i]) / (rampStops[i + 1] - rampStops[i])));
  const c = rampColors[i].map(function (a, j) { return Math.round(a + (rampColors[i + 1][j] - a) * t); });
  return 'rgb(' + c.join(',') + ')';
}
function softnessFor(level) {
  if (level < 0.4) return 'url(#soft-wide)';
  if (level < 0.65) return 'url(#soft-mid)';
  return 'url(#soft-tight)';
}
function drawWavelet(p, prefix, clipId, baseLevel, regions, lines) {
  const clipped = add(p.g, 'g', {'clip-path': 'url(#' + clipId + ')'});
  
  
  const base = add(clipped, 'rect', {x: p.left - 15, y: p.top - 15, width: p.right - p.left + 30, height: p.bottom - p.top + 30, fill: levelColor(baseLevel)});
  
  
  regions.forEach(function (r) {
    const pts = r.pts.map(function (q) { return [p.x(q[0]), p.y(q[1])]; });
    const band = add(clipped, 'path', {d: smoothPath(pts, true), fill: levelColor(r.level), filter: softnessFor(r.level)});
    
    
  });
  const lineStroke = 'rgba(35,62,56,0.72)';
  regions.forEach(function (r) {
    if (!r.line) return;
    const pts = r.pts.map(function (q) { return [p.x(q[0]), p.y(q[1])]; });
    const c = add(clipped, 'path', {d: smoothPath(pts, true), fill: 'none', stroke: lineStroke, 'stroke-width': 0.9});
    
    
  });
  lines.forEach(function (l) {
    const pts = l.map(function (q) { return [p.x(q[0]), p.y(q[1])]; });
    const c = add(clipped, 'path', {d: smoothPath(pts, false), fill: 'none', stroke: lineStroke, 'stroke-width': 0.9});
    
    
  });
}
function drawCircles(p, prefix, values, step) {
  values.forEach(function (v, i) {
    const c = add(p.g, 'circle', {cx: p.x(i * step), cy: p.y(v), r: 2.8, fill: 'none', stroke: '#bdbdbd', 'stroke-width': 0.8});
    
    
  });
}
function starPath(cx, cy, r) {
  let d = '';
  for (let i = 0; i < 10; i++) {
    const a = -Math.PI / 2 + i * Math.PI / 5;
    const rr = i % 2 ? r * 0.42 : r;
    d += (i ? 'L' : 'M') + (cx + rr * Math.cos(a)).toFixed(2) + ' ' + (cy + rr * Math.sin(a)).toFixed(2) + ' ';
  }
  return d + 'Z';
}

/* ---------- panel a ---------- */
const pa = makePanel('plot-a', 52, 338, 265, 33, [736, 705], [0, 100]);
[[aRed, '#e8242b', 'xps-curve-vo-br'], [aBlue, '#2aa5e0', 'xps-curve-vbr']].forEach(function (s) {
  const pts = s[0].map(function (v, i) { return [pa.x(aEnergyStart - i * aEnergyStep), pa.y(v)]; });
  const path = add(pa.g, 'path', {d: polyPath(pts), fill: 'none', stroke: s[1], 'stroke-width': 1.4, 'stroke-linejoin': 'round'});
  
  
});
drawAxes(pa, 'a', aXLabels, [], '#4a4a4a');

/* ---------- panel b ---------- */
const pb = makePanel('plot-b', 410, 696, 265, 33, [7080, 7200], [-0.2, 2.0]);
drawCurve(pb, bOlive, '#85852c', 1.7, 'xanes-curve-fe2o3');
drawCurve(pb, bPurple, '#a62cbb', 1.7, 'xanes-curve-fe-foil');
drawCurve(pb, bBlue, '#2aa5e0', 2, 'xanes-curve-vbr');
drawCurve(pb, bRed, '#e8343a', 2, 'xanes-curve-vo-br');
drawCurve(pb, bBlack, '#1a1a1a', 1.6, 'xanes-curve-feo');
drawAxes(pb, 'b', bXLabels, bYLabels, '#4a4a4a');

/* ---------- panel c ---------- */
const pc = makePanel('plot-c', 767, 1054, 265, 33, [7110, 7130], [-0.25, 3.5]);
const fitLine = add(pc.g, 'line', {x1: pc.x(cFitEnergy[0]), y1: pc.y(cFitState[0]), x2: pc.x(cFitEnergy[1]), y2: pc.y(cFitState[1]), stroke: '#85852c', 'stroke-width': 1.8});


cReferenceEnergy.forEach(function (v, i) {
  const m = add(pc.g, 'rect', {x: pc.x(v) - 2.5, y: pc.y(cReferenceState[i]) - 2.5, width: 5, height: 5, fill: '#111'});
  
  
});
['#ee4b4b', '#2aa5e0'].forEach(function (color, i) {
  const s = add(pc.g, 'path', {d: starPath(pc.x(cSampleEnergy[i]), pc.y(cSampleState[i]), 5), fill: color});
  
  
});
drawAxes(pc, 'c', cXLabels, cYLabels, '#4a4a4a');

/* ---------- panel d ---------- */
const pd = makePanel('plot-d', 52, 338, 561, 331, [0, 6], [0, 100]);
drawCurve(pd, dRed, '#e25555', 1.7, 'ft-curve-vo-br');
drawCurve(pd, dBlue, '#2f9fe0', 1.8, 'ft-curve-vbr');
drawCurve(pd, dOlive, '#85853a', 1.8, 'ft-curve-fe2o3');
drawCurve(pd, dPurple, '#a635ad', 1.8, 'ft-curve-fe-foil');
drawAxes(pd, 'd', dXLabels, [], '#4a4a4a');

/* ---------- panel e ---------- */
const pe = makePanel('plot-e', 410, 696, 561, 331, [0, 6], [0, 100]);
drawCircles(pe, 'e', eData, dataStepR);
drawCurve(pe, eFit, '#e25555', 1.7, 'e-fit-curve');
drawAxes(pe, 'e', dXLabels, [], '#4a4a4a');

/* ---------- panel f ---------- */
const pf = makePanel('plot-f', 767, 1054, 561, 331, [0, 6], [0, 100]);
drawCircles(pf, 'f', fData, dataStepR);
drawCurve(pf, fFit, '#2aa5e0', 1.8, 'f-fit-curve');
drawAxes(pf, 'f', dXLabels, [], '#4a4a4a');

/* ---------- panel g ---------- */
const pg = makePanel('plot-g', 52, 338, 856, 625, [0, 12], [1, 5]);
drawWavelet(pg, 'g', 'clip-g', gBaseLevel, gRegions, gLines);
drawAxes(pg, 'g', gXLabels, gYLabels, '#333');

/* ---------- panel h ---------- */
const ph = makePanel('plot-h', 410, 696, 856, 625, [0, 12], [1, 4.5]);
drawWavelet(ph, 'h', 'clip-h', hBaseLevel, hRegions, hLines);
drawAxes(ph, 'h', gXLabels, hYLabels, '#333');

/* ---------- panel i ---------- */
const pi = makePanel('plot-i', 767, 1054, 856, 625, [0, 6], [-0.05, 0.8]);
drawCurve(pi, iRed, '#e25555', 1.7, 'bi-o-curve-vo-br');
drawCurve(pi, iBlue, '#2aa5e0', 1.8, 'bi-o-curve-vbr');
drawAxes(pi, 'i', iXLabels, iYLabels, '#4a4a4a');
</script>
</body>
</html>
